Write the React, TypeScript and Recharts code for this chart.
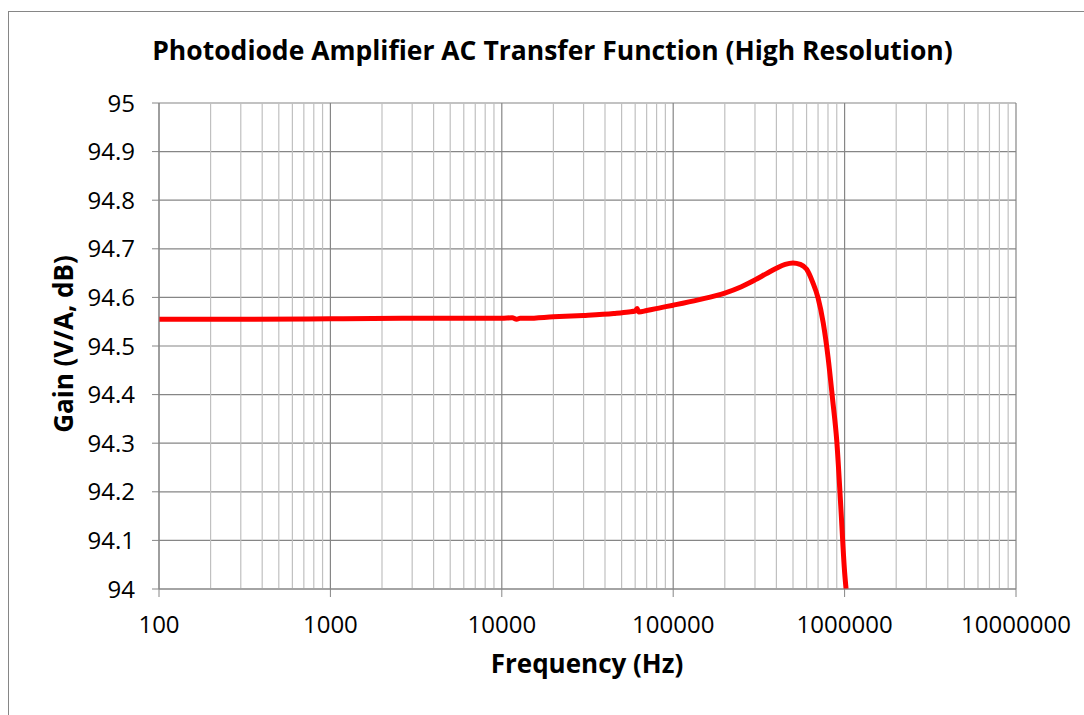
import React from "react";
import { LineChart, Line, XAxis, YAxis, CartesianGrid, ReferenceLine } from "recharts";

const freqs = [
  100, 300, 1000, 3000, 10000, 11500, 12200, 12800, 14000, 20000, 30000, 45000,
  55000, 60000, 61500, 63000, 70000, 85000, 100000, 140000, 200000, 250000,
  300000, 350000, 400000, 450000, 500000, 550000, 600000, 650000, 700000,
  750000, 800000, 850000, 900000, 950000, 1000000, 1020000,
];
const gains = [
  94.555, 94.555, 94.556, 94.557, 94.557, 94.558, 94.555, 94.557, 94.557, 94.56, 94.563, 94.567,
  94.57, 94.572, 94.577, 94.57, 94.573, 94.579, 94.584, 94.595, 94.609, 94.622,
  94.636, 94.649, 94.66, 94.668, 94.671, 94.668, 94.658, 94.632, 94.599,
  94.548, 94.478, 94.392, 94.305, 94.17, 94.035, 94.0,
];

const xTicks = [100, 1000, 10000, 100000, 1000000, 10000000];
const yTicks = [94, 94.1, 94.2, 94.3, 94.4, 94.5, 94.6, 94.7, 94.8, 94.9, 95];
const minorMultiples = [2, 3, 4, 5, 6, 7, 8, 9];

const data = freqs.map((f, i) => ({ freq: f, gain: gains[i] }));
const minorLines = xTicks.slice(0, -1).flatMap((d) => minorMultiples.map((m) => d * m));

const font = "'Open Sans', sans-serif";

export default function App() {
  return (
    <div style={{ position: "absolute", left: 0, top: 0, width: 1084, height: 715, background: "#fff", fontFamily: font, overflow: "hidden" }}>
      <div style={{ position: "absolute", left: 8, top: 11, width: 1200, height: 800, border: "1px solid #868686" }} />
      <div style={{ position: "absolute", left: 0, width: 1105, top: 32, textAlign: "center", fontWeight: 700, fontSize: 26.5, color: "#000", whiteSpace: "nowrap" }}>
        Photodiode Amplifier AC Transfer Function (High Resolution)
      </div>
      <div style={{ position: "absolute", left: 0, top: 0 }}>
        <LineChart width={1084} height={715} data={data} margin={{ top: 103, right: 68, bottom: 66, left: 79 }}>
          <CartesianGrid stroke="#868686" strokeWidth={1.2} />
          {minorLines.map((v) => (
            <ReferenceLine key={v} x={v} stroke="#c0c0c0" strokeWidth={1.2} zIndex={-50} />
          ))}
          <XAxis
            dataKey="freq"
            type="number"
            scale="log"
            domain={[100, 10000000]}
            ticks={xTicks}
            allowDataOverflow
            height={60}
            tickSize={8}
            tickMargin={19}
            stroke="#868686"
            tick={{ fill: "#000", fontSize: 24 }}
          />
          <YAxis
            type="number"
            domain={[94, 95]}
            ticks={yTicks}
            allowDataOverflow
            width={80}
            tickSize={7}
            tickMargin={17}
            stroke="#868686"
            tick={{ fill: "#000", fontSize: 24 }}
          />
          <Line
            dataKey="gain"
            type="monotone"
            stroke="#ff0000"
            strokeWidth={5}
            dot={false}
            isAnimationActive={false}
          />
        </LineChart>
      </div>
      <div style={{ position: "absolute", left: 387, width: 400, top: 645, textAlign: "center", fontWeight: 700, fontSize: 26 }}>
        Frequency (Hz)
      </div>
      <div
        style={{
          position: "absolute", left: 63, top: 344, width: 300, marginLeft: -150, marginTop: -18, height: 36, lineHeight: "36px",
          textAlign: "center", fontWeight: 700, fontSize: 26, transform: "rotate(-90deg)", whiteSpace: "nowrap",
        }}
      >
        Gain (V/A, dB)
      </div>
    </div>
  );
}
